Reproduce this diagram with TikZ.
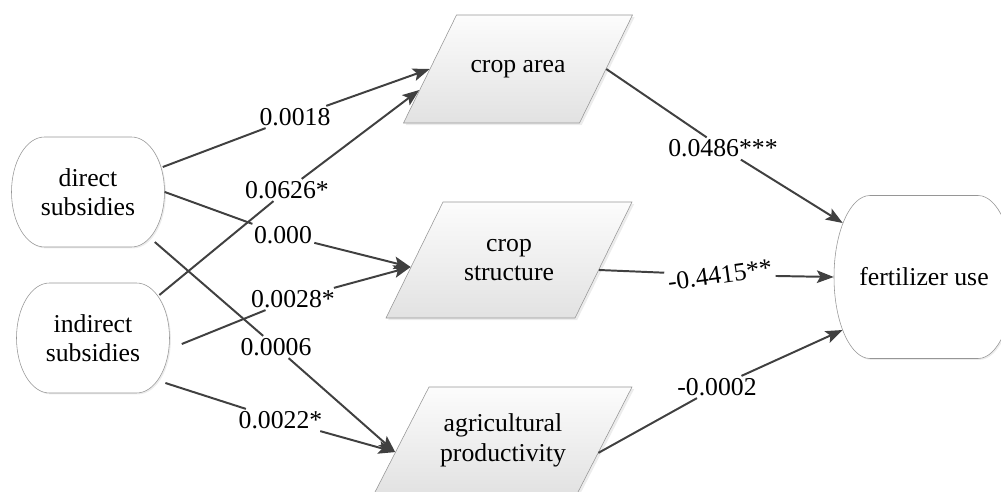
\documentclass[tikz,border=0pt]{standalone}
\usepackage{fontspec}
\setmainfont{Liberation Serif}
\usetikzlibrary{arrows.meta,shadows}
\definecolor{edgegray}{RGB}{64,64,64}
\definecolor{rimgray}{RGB}{150,150,150}
\definecolor{paletop}{RGB}{252,252,252}
\definecolor{palebottom}{RGB}{226,226,226}

\begin{document}
\begin{tikzpicture}[
		font=\fontsize{18.3}{21}\selectfont,
		roundside/.style={draw=rimgray,fill=white,drop shadow={shadow xshift=1pt,shadow yshift=-1pt,opacity=0.15}},
		slanted/.style={draw=rimgray,top color=paletop,bottom color=palebottom,drop shadow={shadow xshift=1.5pt,shadow yshift=-1.5pt,opacity=0.15}},
		boxtext/.style={align=center,inner sep=0pt},
		coef/.style={inner sep=1.5pt},
		link/.style={draw=edgegray,line width=1.4pt},
		tip/.style={link,-{Stealth[length=12pt,width=9pt,inset=2.5pt]}}
	]
		\clip (0,0) rectangle (25.025,-12.3);
		\coordinate (dir_c) at (2.2,-4.8);
		\coordinate (ind_c) at (2.325,-8.45);
		\coordinate (fert_c) at (23.1,-6.925);
		\coordinate (area_c) at (12.95,-1.725);
		\coordinate (struct_c) at (12.725,-6.5);
		\coordinate (prod_c) at (12.575,-11.0125);
		% rounded boxes
		\draw[roundside] ([shift={(-1.0875,1.375)}]dir_c)--([shift={(1.0875,1.375)}]dir_c) arc[start angle=90,end angle=-90,x radius=0.825,y radius=1.375]--([shift={(-1.0875,-1.375)}]dir_c) arc[start angle=270,end angle=90,x radius=0.825,y radius=1.375]--cycle;
		\draw[roundside] ([shift={(-1.0875,1.375)}]ind_c)--([shift={(1.0875,1.375)}]ind_c) arc[start angle=90,end angle=-90,x radius=0.825,y radius=1.375]--([shift={(-1.0875,-1.375)}]ind_c) arc[start angle=270,end angle=90,x radius=0.825,y radius=1.375]--cycle;
		\draw[roundside] ([shift={(-1.35,2.0375)}]fert_c)--([shift={(1.35,2.0375)}]fert_c) arc[start angle=90,end angle=-90,x radius=0.9,y radius=2.0375]--([shift={(-1.35,-2.0375)}]fert_c) arc[start angle=270,end angle=90,x radius=0.9,y radius=2.0375]--cycle;
		\node[boxtext,minimum width=3.825cm,minimum height=2.75cm] (d_sub) at (dir_c) {direct\\subsidies};
		\node[boxtext,minimum width=3.825cm,minimum height=2.75cm] (i_sub) at (ind_c) {indirect\\subsidies};
		\node[boxtext,minimum width=4.5cm,minimum height=4.075cm] (f_use) at (fert_c) {fertilizer use};
		% slanted boxes
		\draw[slanted] ([shift={(-1.5375,1.35)}]area_c)--([shift={(2.8625,1.35)}]area_c)--([shift={(1.5375,-1.35)}]area_c)--([shift={(-2.8625,-1.35)}]area_c)--cycle;
		\draw[slanted] ([shift={(-1.65,1.45)}]struct_c)--([shift={(3.075,1.45)}]struct_c)--([shift={(1.65,-1.45)}]struct_c)--([shift={(-3.075,-1.45)}]struct_c)--cycle;
		\draw[slanted] ([shift={(-1.85,1.3375)}]prod_c)--([shift={(3.225,1.3375)}]prod_c)--([shift={(1.85,-1.3375)}]prod_c)--([shift={(-3.225,-1.3375)}]prod_c)--cycle;
		\node[boxtext,minimum width=4.4cm,minimum height=2.7cm] (c_area) at (area_c) {crop area};
		\node[boxtext,minimum width=4.725cm,minimum height=2.9cm] (c_struct) at (struct_c) {crop\\structure};
		\node[boxtext,minimum width=5.075cm,minimum height=2.675cm] (a_prod) at (prod_c) {agricultural\\productivity};
		% coefficients
		\node[coef] (w_1) at (7.375,-2.925) {0.0018};
		\node[coef] (w_2) at (7.175,-4.75) {0.0626*};
		\node[coef] (w_3) at (7.075,-5.875) {0.000};
		\node[coef] (w_4) at (6.9,-8.675) {0.0006};
		\node[coef] (w_5) at (7.325,-7.475) {0.0028*};
		\node[coef] (w_6) at (7.0125,-10.5) {0.0022*};
		\node[coef] (w_7) at (18.075,-3.7125) {0.0486***};
		\node[coef,rotate=8] (w_8) at (18,-6.875) {-0.4415**};
		\node[coef] (w_9) at (17.925,-9.675) {-0.0002};
		% paths
		\draw[link] ([shift={(-0.05,0.625)}]d_sub.east) -- (w_1);
		\draw[tip] (w_1) -- (c_area.west);
		\draw[link] ([shift={(-0.26,1.075)}]i_sub.east) -- (w_2);
		\draw[tip] (w_2) -- ([shift={(-0.26,-0.525)}]c_area.west);
		\draw[link] (d_sub.east) -- (w_3);
		\draw[tip] (w_3) -- ([shift={(-0.09,-0.175)}]c_struct.west);
		\draw[link] ([shift={(-0.25,-1.25)}]d_sub.east) -- (w_4);
		\draw[tip] (w_4) -- ([shift={(-0.15,-0.29)}]a_prod.west);
		\draw[link] ([shift={(0.3,-0.15)}]i_sub.east) -- (w_5);
		\draw[tip] (w_5) -- ([shift={(-0.09,-0.175)}]c_struct.west);
		\draw[link] ([shift={(-0.11,-1.125)}]i_sub.east) -- (w_6);
		\draw[tip] (w_6) -- ([shift={(-0.15,-0.29)}]a_prod.west);
		\draw[link] (c_area.east) -- (w_7);
		\draw[tip] (w_7) -- ([shift={(0.225,1.35)}]f_use.west);
		\draw[link] ([shift={(-0.12,-0.25)}]c_struct.east) -- (w_8);
		\draw[tip] (w_8) -- (f_use.west);
		\draw[link] ([shift={(-0.16,-0.31)}]a_prod.east) -- (w_9);
		\draw[tip] (w_9) -- ([shift={(0.22,-1.325)}]f_use.west);
	\end{tikzpicture}
\end{document}
